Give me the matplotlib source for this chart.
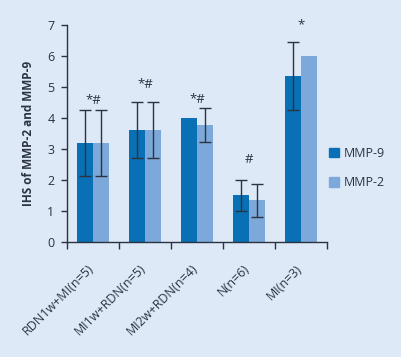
import matplotlib
matplotlib.use("Agg")
import matplotlib.pyplot as plt
from matplotlib.patches import Patch
from matplotlib.transforms import ScaledTranslation
import numpy as np

categories = ["RDN1w+MI(n=5)", "MI1w+RDN(n=5)", "MI2w+RDN(n=4)", "N(n=6)", "MI(n=3)"]
mmp9 = [3.18, 3.6, 4.0, 1.5, 5.35]
mmp9_err = [1.07, 0.9, 0.0, 0.5, 1.1]
mmp2 = [3.18, 3.6, 3.75, 1.33, 6.0]
mmp2_err = [1.07, 0.9, 0.55, 0.53, 0.0]
marks = ["*#", "*#", "*#", "#", "*"]
mark_y = [4.55, 5.08, 4.57, 2.64, 7.0]
yticks = [0, 1, 2, 3, 4, 5, 6, 7]

BG = "#dde9f7"
C9 = "#0a70b5"
C2 = "#7ca8da"
AX = "#2b3340"

plt.rcParams['font.family'] = ['Open Sans', 'DejaVu Sans']

fig = plt.figure(figsize=(4.02, 3.57), dpi=100, facecolor=BG)
ax = fig.add_axes([67/402, 1-241.7/357, 260/402, (241.7-24.5)/357])
ax.set_facecolor(BG)

x = np.arange(len(categories))
w = 16/52
ekw = dict(ecolor=AX, elinewidth=1.0, capsize=4, capthick=1.0)
e9 = [e if e > 0 else np.nan for e in mmp9_err]
e2 = [e if e > 0 else np.nan for e in mmp2_err]
ax.bar(x - w/2, mmp9, w, color=C9, yerr=e9, error_kw=ekw, zorder=2)
ax.bar(x + w/2, mmp2, w, color=C2, yerr=e2, error_kw=ekw, zorder=2)

for xi, yv, m in zip(x, mark_y, marks):
    ax.text(xi, yv, m, ha='center', va='center', fontsize=9.5, color=AX, clip_on=False)

ax.set_xlim(-0.5, len(categories) - 0.5)
ax.set_ylim(0, 7)
ax.set_yticks(yticks)
ax.set_yticklabels([str(v) for v in yticks], fontsize=9, color=AX)
ax.set_xticks(x)
ax.set_xticklabels(categories, rotation=45, ha='right', rotation_mode='anchor', fontsize=9, color=AX)
ax.tick_params(axis='x', which='major', length=0, pad=11)
off = ScaledTranslation(-6/100, -5/100, fig.dpi_scale_trans)
for lab in ax.get_xticklabels():
    lab.set_transform(lab.get_transform() + off)
ax.set_xticks(np.arange(-0.5, len(categories)), minor=True)
ax.tick_params(axis='x', which='minor', length=5, width=1, color=AX, direction='out')
ax.tick_params(axis='y', length=4, width=1, color=AX, direction='out', pad=5)

for s in ['top', 'right']:
    ax.spines[s].set_visible(False)
for s in ['left', 'bottom']:
    ax.spines[s].set_color(AX)
    ax.spines[s].set_linewidth(1.0)

ax.set_ylabel("IHS of MMP-2 and MMP-9", fontsize=8.5, fontweight='bold', color=AX, labelpad=9)

handles = [Patch(color=C9), Patch(color=C2)]
fig.legend(handles, ["MMP-9", "MMP-2"], loc='upper left', bbox_to_anchor=(324/402, 1-142/357),
           frameon=False, fontsize=9, handlelength=0.8, handleheight=0.8, handletextpad=0.4,
           labelspacing=1.3, borderaxespad=0, labelcolor=AX)

fig.savefig("out.png", dpi=100, facecolor=BG)
